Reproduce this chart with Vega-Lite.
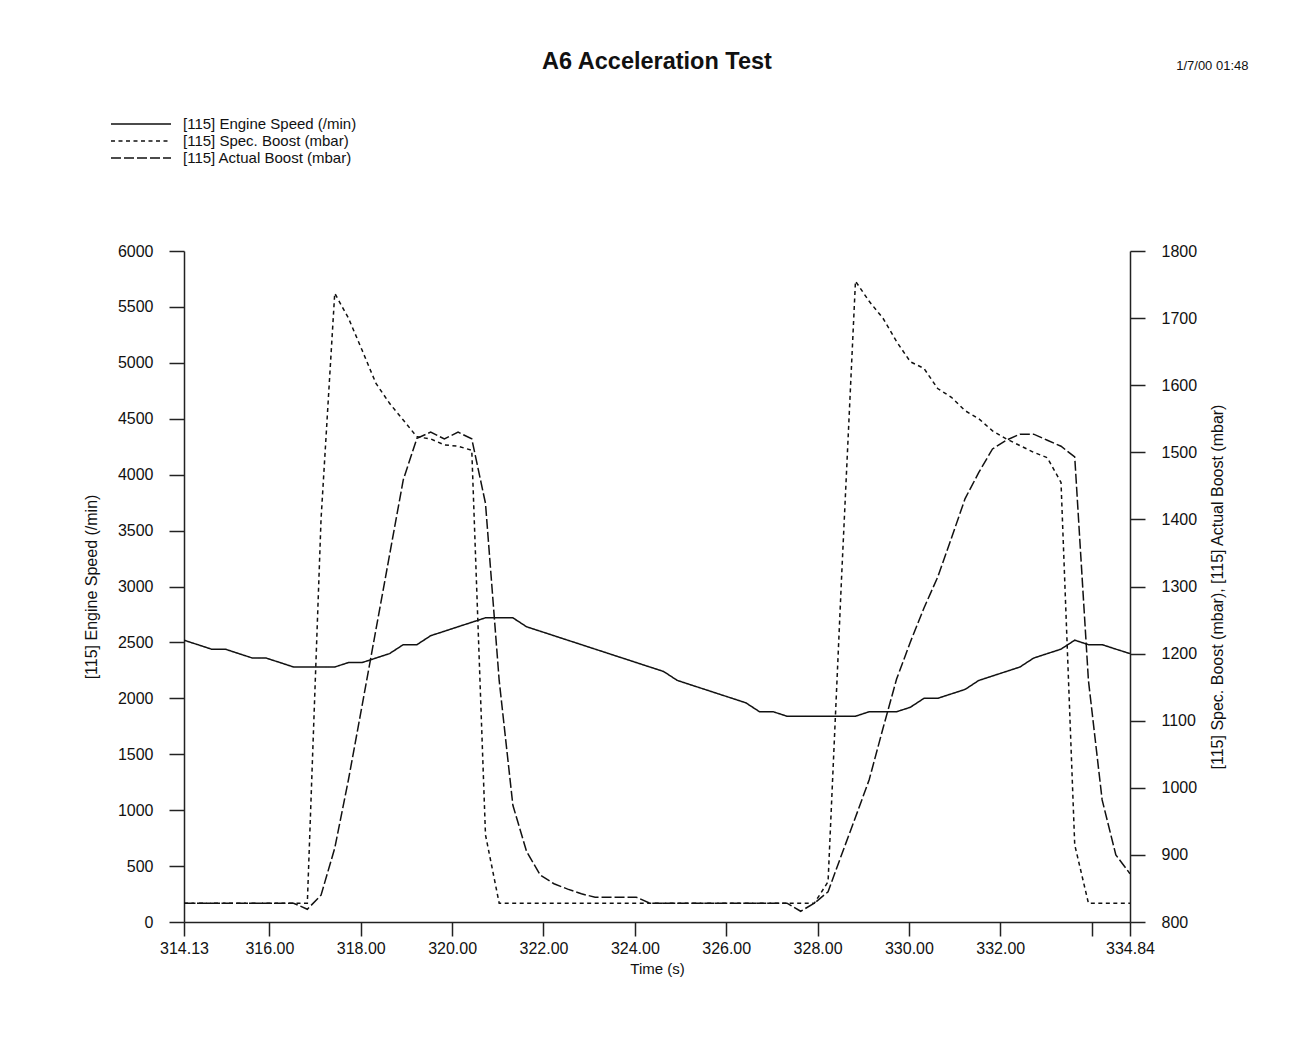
{
  "$schema": "https://vega.github.io/schema/vega-lite/v6.json",
  "autosize": {"type": "none"},
  "padding": {"left": 184, "top": 251, "right": 179, "bottom": 121},
  "width": 946,
  "height": 671,
  "background": "white",
  "title": {"text": "A6 Acceleration Test", "fontSize": 23.5, "fontWeight": "bold", "font": "Liberation Sans", "anchor": "middle", "color": "#111", "offset": -14},
  "data": {"values": [
    {"t": 314.13, "rpm": 2520, "spec": 828, "actual": 828},
    {"t": 314.43, "rpm": 2480, "spec": 828, "actual": 828},
    {"t": 314.73, "rpm": 2440, "spec": 828, "actual": 828},
    {"t": 315.03, "rpm": 2440, "spec": 828, "actual": 828},
    {"t": 315.33, "rpm": 2400, "spec": 828, "actual": 828},
    {"t": 315.63, "rpm": 2360, "spec": 828, "actual": 828},
    {"t": 315.93, "rpm": 2360, "spec": 828, "actual": 828},
    {"t": 316.23, "rpm": 2320, "spec": 828, "actual": 828},
    {"t": 316.53, "rpm": 2280, "spec": 828, "actual": 828},
    {"t": 316.83, "rpm": 2280, "spec": 828, "actual": 819},
    {"t": 317.13, "rpm": 2280, "spec": 1400, "actual": 840},
    {"t": 317.43, "rpm": 2280, "spec": 1737, "actual": 910},
    {"t": 317.73, "rpm": 2320, "spec": 1700, "actual": 1012},
    {"t": 318.03, "rpm": 2320, "spec": 1652, "actual": 1123},
    {"t": 318.33, "rpm": 2360, "spec": 1603, "actual": 1235},
    {"t": 318.63, "rpm": 2400, "spec": 1573, "actual": 1347},
    {"t": 318.93, "rpm": 2480, "spec": 1548, "actual": 1459},
    {"t": 319.23, "rpm": 2480, "spec": 1523, "actual": 1521},
    {"t": 319.53, "rpm": 2560, "spec": 1520, "actual": 1530},
    {"t": 319.83, "rpm": 2600, "spec": 1511, "actual": 1520},
    {"t": 320.13, "rpm": 2640, "spec": 1509, "actual": 1530},
    {"t": 320.43, "rpm": 2680, "spec": 1503, "actual": 1520},
    {"t": 320.73, "rpm": 2720, "spec": 930, "actual": 1424},
    {"t": 321.03, "rpm": 2720, "spec": 828, "actual": 1160},
    {"t": 321.33, "rpm": 2720, "spec": 828, "actual": 974},
    {"t": 321.63, "rpm": 2640, "spec": 828, "actual": 905},
    {"t": 321.93, "rpm": 2600, "spec": 828, "actual": 870},
    {"t": 322.23, "rpm": 2560, "spec": 828, "actual": 857},
    {"t": 322.53, "rpm": 2520, "spec": 828, "actual": 849},
    {"t": 322.83, "rpm": 2480, "spec": 828, "actual": 842},
    {"t": 323.13, "rpm": 2440, "spec": 828, "actual": 837},
    {"t": 323.43, "rpm": 2400, "spec": 828, "actual": 837},
    {"t": 323.73, "rpm": 2360, "spec": 828, "actual": 837},
    {"t": 324.03, "rpm": 2320, "spec": 828, "actual": 837},
    {"t": 324.33, "rpm": 2280, "spec": 828, "actual": 828},
    {"t": 324.63, "rpm": 2240, "spec": 828, "actual": 828},
    {"t": 324.93, "rpm": 2160, "spec": 828, "actual": 828},
    {"t": 325.23, "rpm": 2120, "spec": 828, "actual": 828},
    {"t": 325.53, "rpm": 2080, "spec": 828, "actual": 828},
    {"t": 325.83, "rpm": 2040, "spec": 828, "actual": 828},
    {"t": 326.13, "rpm": 2000, "spec": 828, "actual": 828},
    {"t": 326.43, "rpm": 1960, "spec": 828, "actual": 828},
    {"t": 326.73, "rpm": 1880, "spec": 828, "actual": 828},
    {"t": 327.03, "rpm": 1880, "spec": 828, "actual": 828},
    {"t": 327.33, "rpm": 1840, "spec": 828, "actual": 828},
    {"t": 327.63, "rpm": 1840, "spec": 828, "actual": 816},
    {"t": 327.93, "rpm": 1840, "spec": 828, "actual": 828},
    {"t": 328.23, "rpm": 1840, "spec": 860, "actual": 845},
    {"t": 328.53, "rpm": 1840, "spec": 1320, "actual": 901},
    {"t": 328.83, "rpm": 1840, "spec": 1755, "actual": 956},
    {"t": 329.13, "rpm": 1880, "spec": 1725, "actual": 1012},
    {"t": 329.43, "rpm": 1880, "spec": 1700, "actual": 1088},
    {"t": 329.73, "rpm": 1880, "spec": 1665, "actual": 1162},
    {"t": 330.03, "rpm": 1920, "spec": 1635, "actual": 1217},
    {"t": 330.33, "rpm": 2000, "spec": 1625, "actual": 1268},
    {"t": 330.63, "rpm": 2000, "spec": 1595, "actual": 1314},
    {"t": 330.93, "rpm": 2040, "spec": 1582, "actual": 1372},
    {"t": 331.23, "rpm": 2080, "spec": 1562, "actual": 1431},
    {"t": 331.53, "rpm": 2160, "spec": 1550, "actual": 1470},
    {"t": 331.83, "rpm": 2200, "spec": 1532, "actual": 1505},
    {"t": 332.13, "rpm": 2240, "spec": 1520, "actual": 1518},
    {"t": 332.43, "rpm": 2280, "spec": 1510, "actual": 1527},
    {"t": 332.73, "rpm": 2360, "spec": 1500, "actual": 1527},
    {"t": 333.03, "rpm": 2400, "spec": 1492, "actual": 1518},
    {"t": 333.33, "rpm": 2440, "spec": 1455, "actual": 1509},
    {"t": 333.63, "rpm": 2520, "spec": 915, "actual": 1493},
    {"t": 333.93, "rpm": 2480, "spec": 828, "actual": 1160},
    {"t": 334.23, "rpm": 2480, "spec": 828, "actual": 982},
    {"t": 334.53, "rpm": 2440, "spec": 828, "actual": 900},
    {"t": 334.84, "rpm": 2400, "spec": 828, "actual": 872}
  ]},
  "transform": [{"fold": ["rpm", "spec", "actual"], "as": ["series", "value"]}],
  "layer": [
    {
      "transform": [{"filter": "datum.series === 'rpm'"}],
      "mark": {"type": "line", "color": "#111", "strokeWidth": 1.5, "clip": true},
      "encoding": {
        "x": {"field": "t", "type": "quantitative",
          "scale": {"domain": [314.13, 334.84], "nice": false, "zero": false},
          "axis": {"orient": "bottom", "title": "Time (s)", "titleFontSize": 15, "titlePadding": 5,
            "values": [314.13, 316, 318, 320, 322, 324, 326, 328, 330, 332, 334, 334.84],
            "labelExpr": "datum.value == 334 ? '' : format(datum.value, '.2f')",
            "labelOverlap": false, "labelFlush": false, "tickSize": 14, "labelPadding": 4}},
        "y": {"field": "value", "type": "quantitative",
          "scale": {"domain": [0, 6000], "nice": false, "zero": false},
          "axis": {"orient": "left", "title": "[115] Engine Speed (/min)", "values": [0, 500, 1000, 1500, 2000, 2500, 3000, 3500, 4000, 4500, 5000, 5500, 6000],
            "format": "d", "titleFontSize": 16, "titlePadding": 18, "labelPadding": 16}},
        "strokeDash": {"field": "series", "type": "nominal",
          "scale": {"domain": ["rpm", "spec", "actual"], "range": [[1, 0], [4, 3.5], [10, 3]]},
          "legend": {"orient": "none", "legendX": -52, "legendY": -136, "title": null, "symbolType": "M-3.75,0H3.75", "symbolSize": 256, "symbolStrokeWidth": 1.5, "symbolStrokeColor": "#111", "symbolFillColor": "transparent", "labelFontSize": 15, "labelOffset": 33, "labelColor": "#111", "labelLimit": 0, "rowPadding": -1,
            "labelExpr": "datum.label == 'rpm' ? '[115] Engine Speed (/min)' : datum.label == 'spec' ? '[115] Spec. Boost (mbar)' : '[115] Actual Boost (mbar)'"}}
      }
    },
    {
      "transform": [{"filter": "datum.series !== 'rpm'"}],
      "mark": {"type": "line", "color": "#111", "strokeWidth": 1.5, "clip": true},
      "encoding": {
        "x": {"field": "t", "type": "quantitative",
          "axis": {"orient": "top", "domain": false, "ticks": false, "labels": false, "title": "1/7/00 01:48", "titleFontSize": 13, "titleFontWeight": "normal", "titleAngle": 0, "titleAlign": "right", "titleBaseline": "alphabetic", "titleX": 1064, "titleY": -182}},
        "y": {"field": "value", "type": "quantitative",
          "scale": {"domain": [800, 1800], "nice": false, "zero": false},
          "axis": {"orient": "right", "title": "[115] Spec. Boost (mbar), [115] Actual Boost (mbar)", "values": [800, 900, 1000, 1100, 1200, 1300, 1400, 1500, 1600, 1700, 1800],
            "format": "d", "titleFontSize": 16, "titleAngle": 270, "titlePadding": 29, "labelPadding": 16}},
        "strokeDash": {"field": "series", "type": "nominal",
          "scale": {"domain": ["rpm", "spec", "actual"], "range": [[1, 0], [4, 3.5], [10, 3]]},
          "legend": {"orient": "none", "legendX": -52, "legendY": -136, "title": null, "symbolType": "M-3.75,0H3.75", "symbolSize": 256, "symbolStrokeWidth": 1.5, "symbolStrokeColor": "#111", "symbolFillColor": "transparent", "labelFontSize": 15, "labelOffset": 33, "labelColor": "#111", "labelLimit": 0, "rowPadding": -1,
            "labelExpr": "datum.label == 'rpm' ? '[115] Engine Speed (/min)' : datum.label == 'spec' ? '[115] Spec. Boost (mbar)' : '[115] Actual Boost (mbar)'"}}
      }
    }
  ],
  "resolve": {"scale": {"y": "independent"}, "axis": {"x": "independent", "y": "independent"}},
  "config": {
    "font": "Liberation Sans",
    "view": {"stroke": null},
    "axis": {"grid": false, "domainColor": "#222", "tickColor": "#222", "labelColor": "#111", "titleColor": "#111", "labelFontSize": 16, "titleFontWeight": "normal", "tickSize": 15, "domainWidth": 1.5, "tickWidth": 1.5, "labelFont": "Liberation Sans", "titleFont": "Liberation Sans"}
  }
}
